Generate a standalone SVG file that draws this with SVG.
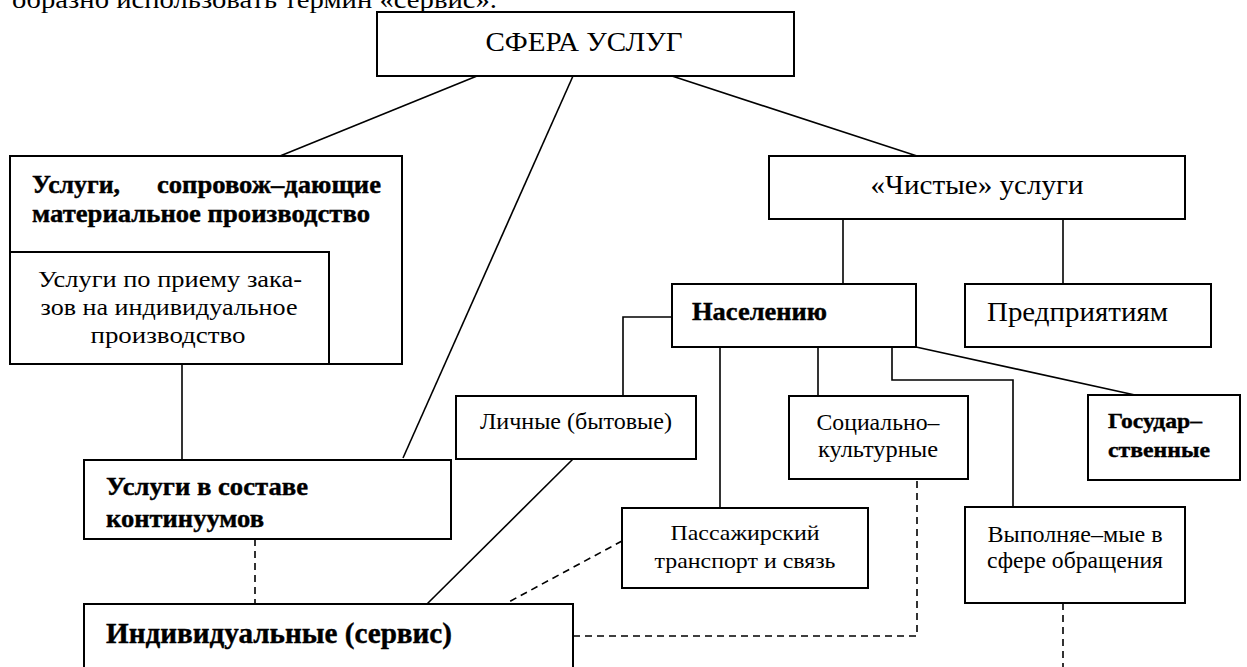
<svg xmlns="http://www.w3.org/2000/svg" width="1247" height="667" viewBox="0 0 1247 667" font-family="'Liberation Serif', 'Times New Roman', Tinos, serif">
<style>
.box{fill:#fff;stroke:#000;stroke-width:2}
.ln{fill:none;stroke:#000;stroke-width:1.6}
.dash{fill:none;stroke:#000;stroke-width:1.6;stroke-dasharray:7 5}
text{font-family:'Liberation Serif','Times New Roman',Tinos,serif;fill:#000}
.b{font-weight:bold;stroke:#000;stroke-width:0.4}
.c{text-anchor:middle}
</style>
<rect width="1247" height="667" fill="#fff"/>
<text x="12" y="8" font-size="26" textLength="485" lengthAdjust="spacingAndGlyphs">образно использовать термин «сервис».</text>
<g id="connectors">
<line class="ln" x1="477" y1="76" x2="280" y2="156"/>
<line class="ln" x1="573" y1="76" x2="403" y2="458"/>
<line class="ln" x1="672" y1="76" x2="917" y2="156"/>
<line class="ln" x1="182" y1="364" x2="182" y2="460"/>
<line class="dash" x1="255" y1="539" x2="255" y2="604"/>
<line class="ln" x1="843" y1="219" x2="843" y2="284"/>
<line class="ln" x1="1063" y1="219" x2="1063" y2="284"/>
<polyline class="ln" points="672,317 623,317 623,396"/>
<line class="ln" x1="720" y1="347" x2="720" y2="508"/>
<line class="ln" x1="818" y1="347" x2="818" y2="396"/>
<polyline class="ln" points="892,347 892,380 1013,380 1013,507"/>
<line class="ln" x1="916" y1="347" x2="1135" y2="395"/>
<line class="ln" x1="573" y1="459" x2="427" y2="604"/>
<line class="dash" x1="622" y1="541" x2="505" y2="604"/>
<polyline class="dash" points="573,636 917,636 917,479"/>
<line class="dash" x1="1063" y1="603" x2="1063" y2="667"/>
</g>
<g id="sfera">
<rect class="box" x="377" y="12" width="417" height="64"/>
<text class="c" x="584" y="51" font-size="28" textLength="197" lengthAdjust="spacingAndGlyphs">СФЕРА УСЛУГ</text>
</g>
<g id="soprovozh">
<rect class="box" x="10" y="156" width="392" height="208"/>
<text class="b" x="32" y="193" font-size="25" textLength="88" lengthAdjust="spacingAndGlyphs">Услуги,</text>
<text class="b" x="157" y="193" font-size="25" textLength="224" lengthAdjust="spacingAndGlyphs">сопровож–дающие</text>
<text class="b" x="32" y="222" font-size="25" textLength="338" lengthAdjust="spacingAndGlyphs">материальное производство</text>
</g>
<g id="priem">
<rect class="box" x="10" y="252" width="319" height="112"/>
<text class="c" x="170" y="287" font-size="24" textLength="264" lengthAdjust="spacingAndGlyphs">Услуги по приему зака-</text>
<text class="c" x="169" y="315" font-size="24" textLength="257" lengthAdjust="spacingAndGlyphs">зов на индивидуальное</text>
<text class="c" x="168" y="343" font-size="24" textLength="155" lengthAdjust="spacingAndGlyphs">производство</text>
</g>
<g id="kontinuum">
<rect class="box" x="84" y="460" width="367" height="79"/>
<text class="b" x="106" y="495" font-size="26" textLength="202" lengthAdjust="spacingAndGlyphs">Услуги в составе</text>
<text class="b" x="106" y="527" font-size="26" textLength="158" lengthAdjust="spacingAndGlyphs">континуумов</text>
</g>
<g id="individ">
<rect class="box" x="84" y="604" width="489" height="80"/>
<text class="b" x="106" y="643" font-size="29" textLength="346" lengthAdjust="spacingAndGlyphs">Индивидуальные (сервис)</text>
</g>
<g id="chistye">
<rect class="box" x="769" y="156" width="416" height="63"/>
<text class="c" x="977" y="194" font-size="28" textLength="213" lengthAdjust="spacingAndGlyphs">«Чистые» услуги</text>
</g>
<g id="naseleniyu">
<rect class="box" x="672" y="284" width="244" height="63"/>
<text class="b" x="692" y="320" font-size="25" textLength="135" lengthAdjust="spacingAndGlyphs">Населению</text>
</g>
<g id="predpriyatiyam">
<rect class="box" x="965" y="284" width="246" height="63"/>
<text x="987" y="321" font-size="27" textLength="181" lengthAdjust="spacingAndGlyphs">Предприятиям</text>
</g>
<g id="lichnye">
<rect class="box" x="456" y="396" width="240" height="63"/>
<text class="c" x="576" y="429" font-size="23" textLength="192" lengthAdjust="spacingAndGlyphs">Личные (бытовые)</text>
</g>
<g id="socialno">
<rect class="box" x="789" y="396" width="179" height="83"/>
<text class="c" x="878" y="430" font-size="23" textLength="123" lengthAdjust="spacingAndGlyphs">Социально–</text>
<text class="c" x="878" y="457" font-size="23" textLength="120" lengthAdjust="spacingAndGlyphs">культурные</text>
</g>
<g id="gosudar">
<rect class="box" x="1088" y="395" width="152" height="85"/>
<text class="b" x="1108" y="428" font-size="22" textLength="94" lengthAdjust="spacingAndGlyphs">Государ–</text>
<text class="b" x="1108" y="457" font-size="22" textLength="102" lengthAdjust="spacingAndGlyphs">ственные</text>
</g>
<g id="passazh">
<rect class="box" x="622" y="508" width="246" height="80"/>
<text class="c" x="745" y="540" font-size="22" textLength="149" lengthAdjust="spacingAndGlyphs">Пассажирский</text>
<text class="c" x="745" y="568" font-size="22" textLength="181" lengthAdjust="spacingAndGlyphs">транспорт и связь</text>
</g>
<g id="vypolnyae">
<rect class="box" x="965" y="507" width="220" height="96"/>
<text class="c" x="1075" y="542" font-size="23" textLength="175" lengthAdjust="spacingAndGlyphs">Выполняе–мые в</text>
<text class="c" x="1075" y="568" font-size="23" textLength="176" lengthAdjust="spacingAndGlyphs">сфере обращения</text>
</g>
</svg>
